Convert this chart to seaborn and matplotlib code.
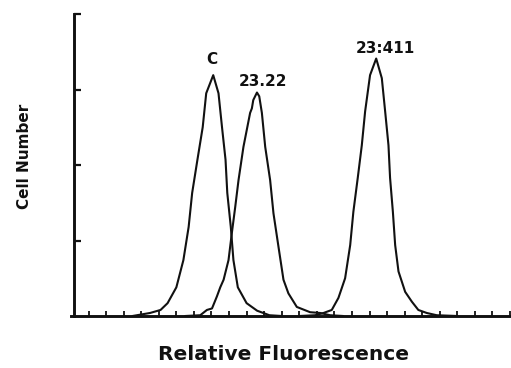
import matplotlib
matplotlib.use("Agg")
import matplotlib.pyplot as plt
import seaborn as sns
import pandas as pd

# ---- data (channel, cell count in arbitrary units) ----
c_channel = [35, 45, 51, 55, 60, 64, 67, 69, 72, 75, 77, 81, 84, 86, 88, 89, 91, 92.5, 95, 100, 106, 113, 120]
c_count   = [0, 4, 8, 17, 38, 74, 118, 163, 207, 250, 295, 319, 295, 250, 207, 163, 118, 74, 38, 17, 7, 1, 0]

s22_channel = [65, 73.6, 77.4, 80.3, 83.1, 85.0, 86.9, 89.7, 91.6, 93.5, 95.4, 98.2, 102.0, 103.0, 103.8,
               105.9, 107.2, 108.7, 110.6, 113.4, 115.3, 118.2, 121.0, 123.8, 128.6, 136.2, 141.9, 147.6, 155]
s22_count   = [0, 1, 8, 10, 26, 38, 48, 74, 110, 144, 180, 224, 269, 275, 286,
               296, 291, 269, 224, 180, 136, 91, 48, 30, 12, 5, 4, 1, 0]

s411_channel = [130, 139.0, 143.8, 148.5, 152.3, 156.1, 159.0, 160.8, 163.3, 165.6, 167.5, 170.3, 173.8,
                177.0, 178.9, 180.8, 181.7, 183.3, 184.6, 186.5, 190.3, 194.1, 197.8, 202.6, 208.3, 220]
s411_count   = [0, 1, 4, 8, 24, 50, 94, 138, 183, 226, 271, 319, 341,
                315, 271, 226, 183, 138, 94, 59, 32, 19, 8, 4, 1, 0]

peak_labels = ["C", "23.22", "23:411"]
label_pos = [(80.3, 340), (109.2, 311), (178.9, 354)]

x_ticks = list(range(10, 251, 10))
y_ticks = [100, 200, 300, 400]

# ---- plotting ----
sns.set_style("white")
plt.rcParams['font.family'] = ['DejaVu Sans']

fig = plt.figure(figsize=(5.11, 3.68), dpi=100)
ax = fig.add_axes([71 / 511, (368 - 316) / 368, (510 - 71) / 511, (316 - 14) / 368])

ink = "#111111"
for xs, ys in [(c_channel, c_count), (s22_channel, s22_count), (s411_channel, s411_count)]:
    df = pd.DataFrame({"channel": xs, "count": ys})
    sns.lineplot(data=df, x="channel", y="count", ax=ax, color=ink, linewidth=1.5,
                 estimator=None, sort=False, clip_on=False)

for txt, (x, y) in zip(peak_labels, label_pos):
    ax.text(x, y, txt, ha="center", va="center", fontsize=11, fontweight="bold", color=ink)

ax.set_xlim(0, 250)
ax.set_ylim(0, 400)
ax.set_xticks(x_ticks)
ax.set_yticks(y_ticks)
ax.set_xticklabels([])
ax.set_yticklabels([])
ax.tick_params(axis="x", direction="in", length=3.5, width=1.3, color=ink, bottom=True)
ax.tick_params(axis="y", direction="in", length=5, width=1.6, color=ink, left=True)

for side in ["top", "right"]:
    ax.spines[side].set_visible(False)
for side in ["left", "bottom"]:
    ax.spines[side].set_linewidth(2.1)
    ax.spines[side].set_color(ink)
ax.spines["left"].set_position(("data", 1.5))

ax.set_xlabel("")
ax.set_ylabel("")
fig.text(284 / 511, 1 - 355 / 368, "Relative Fluorescence", ha="center", va="center",
         fontsize=14.5, fontweight="bold", color=ink)
fig.text(25 / 511, 1 - 156 / 368, "Cell Number", ha="center", va="center", rotation=90,
         fontsize=11, fontweight="bold", color=ink)

fig.savefig("out.png", dpi=100, facecolor="white")
